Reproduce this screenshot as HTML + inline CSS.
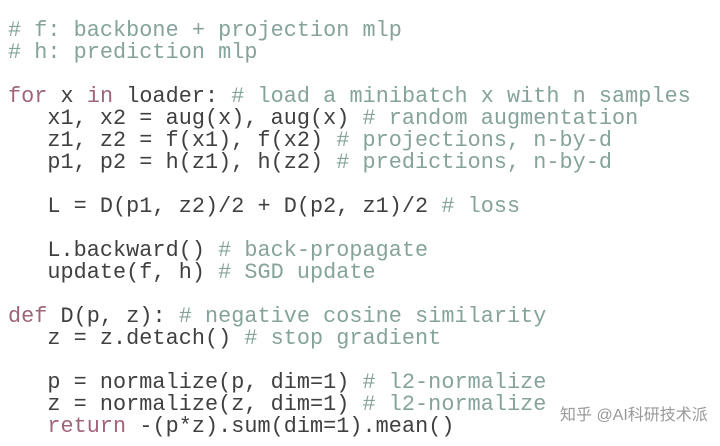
<!DOCTYPE html>
<html><head><meta charset="utf-8"><style>
body{margin:0;width:720px;height:446px;background:#fff;overflow:hidden;position:relative}
pre{position:absolute;left:8px;top:20px;margin:0;font-family:"Liberation Mono",monospace;font-size:21.8px;line-height:22px;color:#404040;letter-spacing:0.05px}
.k{color:#a0647a}.c{color:#85a39b}
.wm{position:absolute;left:560px;top:401px;white-space:nowrap;font-family:"Liberation Sans","Noto Sans CJK SC",sans-serif;font-size:16px;color:#999}
</style></head><body>
<pre><span class="c"># f: backbone + projection mlp</span>
<span class="c"># h: prediction mlp</span>

<span class="k">for</span> x <span class="k">in</span> loader: <span class="c"># load a minibatch x with n samples</span>
   x1, x2 = aug(x), aug(x) <span class="c"># random augmentation</span>
   z1, z2 = f(x1), f(x2) <span class="c"># projections, n-by-d</span>
   p1, p2 = h(z1), h(z2) <span class="c"># predictions, n-by-d</span>

   L = D(p1, z2)/2 + D(p2, z1)/2 <span class="c"># loss</span>

   L.backward() <span class="c"># back-propagate</span>
   update(f, h) <span class="c"># SGD update</span>

<span class="k">def</span> D(p, z): <span class="c"># negative cosine similarity</span>
   z = z.detach() <span class="c"># stop gradient</span>

   p = normalize(p, dim=1) <span class="c"># l2-normalize</span>
   z = normalize(z, dim=1) <span class="c"># l2-normalize</span>
   <span class="k">return</span> -(p*z).sum(dim=1).mean()</pre>
<div class="wm">知乎 @AI科研技术派</div>
</body></html>
